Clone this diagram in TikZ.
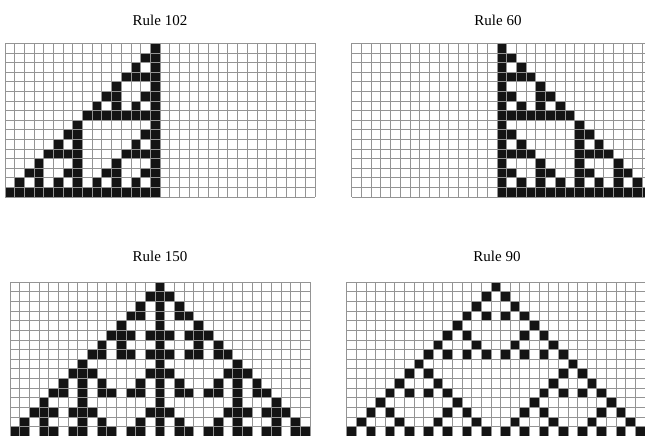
\documentclass[tikz,border=0pt]{standalone}
\usepackage{fontspec}
\setmainfont{Liberation Serif}
\begin{document}
\begin{tikzpicture}[x=1pt,y=-1pt,
  cell/.style={fill=black!92},
  gl/.style={draw=black!42,line width=0.85pt},
  lbl/.style={font=\fontsize{15}{17}\selectfont,inner sep=0pt}]
\useasboundingbox (0,0) rectangle (645,436);
\clip (0,0) rectangle (645,436);
\fill[white] (0,0) rectangle (645,436);
\def\pascal{0/{0},1/{0,1},2/{0,2},3/{0,1,2,3},4/{0,4},5/{0,1,4,5},6/{0,2,4,6},7/{0,...,7},8/{0,8},9/{0,1,8,9},10/{0,2,8,10},11/{0,1,2,3,8,9,10,11},12/{0,4,8,12},13/{0,1,4,5,8,9,12,13},14/{0,2,...,14},15/{0,...,15}}
\def\triset{0/{0},1/{0,1,2},2/{0,2,4},3/{0,1,3,5,6},4/{0,4,8},5/{0,1,2,4,5,6,8,9,10},6/{0,2,6,10,12},7/{0,1,3,4,6,7,8,10,11,13,14},8/{0,8,16},9/{0,1,2,8,9,10,16,17,18},10/{0,2,4,8,10,12,16,18,20},11/{0,1,3,5,6,8,9,11,13,14,16,17,19,21,22},12/{0,4,12,20,24},13/{0,1,2,4,5,6,12,13,14,20,21,22,24,25,26},14/{0,2,6,8,12,14,16,20,22,26,28},15/{0,1,3,4,6,7,9,10,12,13,15,17,18,20,21,23,24,26,27,29,30}}
\newcommand{\cagrid}[1]{%
  \foreach \i in {0,...,#1} \draw[gl] ({\X+\i*\SX},\Y) -- ++(0,{16*\SY});
  \foreach \j in {0,...,16} \draw[gl] (\X,{\Y+\j*\SY}) -- ++({#1*\SX},0);}
% Rule 102
\begin{scope}
\def\X{5}\def\Y{43.4}\def\SX{9.69}\def\SY{9.6}
\foreach \t/\ks in \pascal {\foreach \k in \ks {\fill[cell] ({\X+(15-\k)*\SX},{\Y+\t*\SY}) rectangle ++(\SX,\SY);}}
\cagrid{32}
\end{scope}
% Rule 60
\begin{scope}
\def\X{351.8}\def\Y{43.4}\def\SX{9.69}\def\SY{9.6}
\foreach \t/\ks in \pascal {\foreach \k in \ks {\fill[cell] ({\X+(15+\k)*\SX},{\Y+\t*\SY}) rectangle ++(\SX,\SY);}}
\cagrid{32}
\end{scope}
% Rule 150
\begin{scope}
\def\X{10}\def\Y{282.3}\def\SX{9.68}\def\SY{9.62}
\foreach \t/\ks in \triset {\foreach \k in \ks {\fill[cell] ({\X+(15-\t+\k)*\SX},{\Y+\t*\SY}) rectangle ++(\SX,\SY);}}
\cagrid{31}
\end{scope}
% Rule 90
\begin{scope}
\def\X{346.7}\def\Y{282.3}\def\SX{9.62}\def\SY{9.62}
\foreach \t/\ks in \pascal {\foreach \k in \ks {\fill[cell] ({\X+(15-\t+2*\k)*\SX},{\Y+\t*\SY}) rectangle ++(\SX,\SY);}}
\cagrid{31}
\end{scope}
\node[lbl] (l102) at (160,20) {Rule 102};
\node[lbl] (l60) at (498,20) {Rule 60};
\node[lbl] (l150) at (160,256) {Rule 150};
\node[lbl] (l90) at (497,256) {Rule 90};
\end{tikzpicture}
\end{document}
